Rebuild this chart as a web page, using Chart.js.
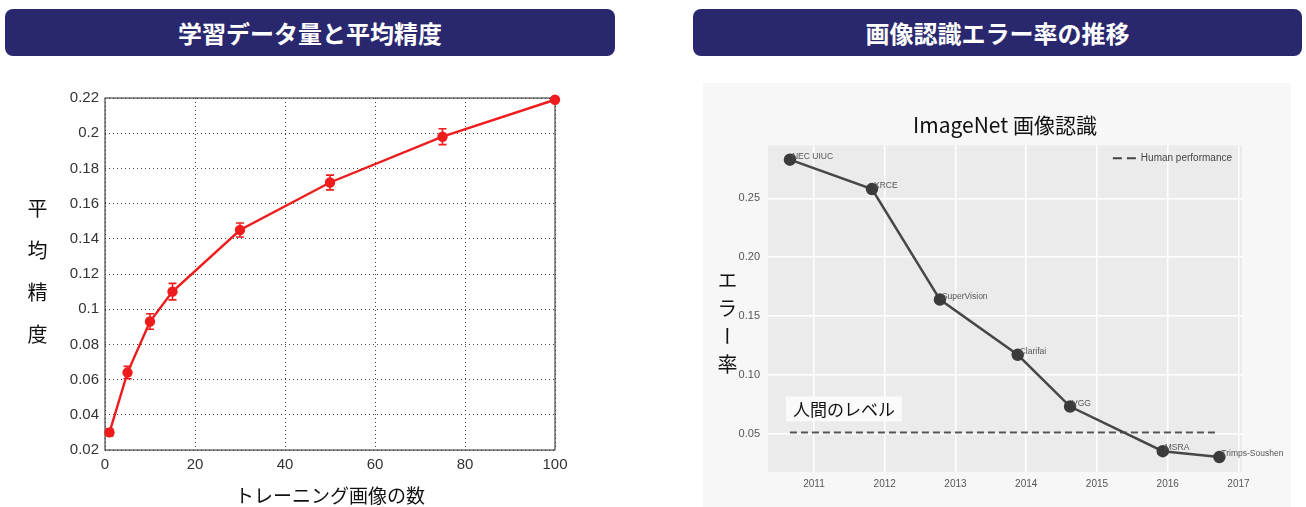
<!DOCTYPE html>
<html>
<head>
<meta charset="utf-8">
<script src="https://cdn.jsdelivr.net/npm/chart.js@4.4.1/dist/chart.umd.min.js"></script>
<style>
    body { margin: 0; width: 1306px; height: 507px; background: #fff; position: relative; overflow: hidden;
           font-family: "Noto Sans CJK JP", "Noto Sans", sans-serif; }
    .banner { position: absolute; top: 9px; height: 47px; background: #29286f; border-radius: 8px; color: #fff;
              font-weight: bold; font-size: 24px; line-height: 47px; text-align: center; }
    .vlabel { position: absolute; writing-mode: vertical-rl; font-size: 20px; color: #111; line-height: 24px; }
</style>
</head>
<body>
<div class="banner" style="left:5px;width:610px">学習データ量と平均精度</div>
<div class="banner" style="left:693px;width:609px">画像認識エラー率の推移</div>

<div style="position:absolute;left:0;top:80px;width:600px;height:427px"><canvas id="apChart"></canvas></div>
<div style="position:absolute;left:703px;top:83px;width:588px;height:424px;background:#f7f7f7"><canvas id="errChart"></canvas></div>

<div class="vlabel" style="left:25px;top:198px;letter-spacing:22px">平均精度</div>
<div class="vlabel" style="left:715px;top:270px;letter-spacing:8px">エラー率</div>

<script>
// 左: 学習データ量と平均精度
const trainSizes = [1, 5, 10, 15, 30, 50, 75, 100];
const meanAP = [0.030, 0.064, 0.093, 0.110, 0.145, 0.172, 0.198, 0.219];
const apError = [0.002, 0.0035, 0.0044, 0.0047, 0.004, 0.0042, 0.0045, 0];
const apTicks = [0.02, 0.04, 0.06, 0.08, 0.10, 0.12, 0.14, 0.16, 0.18, 0.20, 0.22];
const sizeTicks = [0, 20, 40, 60, 80, 100];

// 右: ImageNet のエラー率
const systemNames = ['NEC UIUC', 'XRCE', 'SuperVision', 'Clarifai', 'VGG', 'MSRA', 'Trimps-Soushen'];
const entryYears = [2010.66, 2011.82, 2012.78, 2013.88, 2014.62, 2015.93, 2016.73];
const errorRates = [0.283, 0.258, 0.164, 0.117, 0.073, 0.035, 0.030];
const humanRate = 0.051;
const humanSpan = [2010.66, 2016.71];
const yearTicks = [2011, 2012, 2013, 2014, 2015, 2016, 2017];
const rateTicks = [0.05, 0.10, 0.15, 0.20, 0.25];

const RED = '#ee1c1c';

// エラーバー
const errorBars = {
    id: 'errorBars',
    afterDatasetsDraw(chart) {
        const { ctx, scales: { x, y } } = chart;
        ctx.save();
        ctx.strokeStyle = RED;
        ctx.lineWidth = 1.6;
        trainSizes.forEach((s, i) => {
            if (!apError[i]) return;
            const px = x.getPixelForValue(s);
            const top = y.getPixelForValue(meanAP[i] + apError[i]);
            const bot = y.getPixelForValue(meanAP[i] - apError[i]);
            ctx.beginPath();
            ctx.moveTo(px, top); ctx.lineTo(px, bot);
            ctx.moveTo(px - 4, top); ctx.lineTo(px + 4, top);
            ctx.moveTo(px - 4, bot); ctx.lineTo(px + 4, bot);
            ctx.stroke();
        });
        ctx.restore();
    }
};

// matlab風の枠
const plotFrame = {
    id: 'plotFrame',
    beforeDatasetsDraw(chart) {
        const { ctx, chartArea: a } = chart;
        ctx.save();
        ctx.strokeStyle = '#222';
        ctx.lineWidth = 1;
        ctx.strokeRect(a.left, a.top, a.right - a.left, a.bottom - a.top);
        ctx.restore();
    }
};

new Chart(document.getElementById('apChart'), {
    type: 'line',
    data: {
        datasets: [{
            data: trainSizes.map((s, i) => ({ x: s, y: meanAP[i] })),
            borderColor: RED,
            backgroundColor: RED,
            borderWidth: 2.4,
            pointRadius: 4,
            pointBackgroundColor: RED,
            pointBorderColor: RED,
            clip: false
        }]
    },
    options: {
        responsive: true,
        maintainAspectRatio: false,
        animation: false,
        layout: { padding: { top: 18, right: 45, left: 0, bottom: 0 } },
        plugins: { legend: { display: false }, tooltip: { enabled: false } },
        scales: {
            x: {
                type: 'linear', min: 0, max: 100,
                afterBuildTicks: s => { s.ticks = sizeTicks.map(v => ({ value: v })); },
                afterFit: s => { s.height = 57; },
                grid: { color: '#444', drawTicks: false },
                border: { display: false, dash: [1, 3] },
                ticks: { padding: 6, color: '#333', font: { family: 'Liberation Sans', size: 15 } },
                title: { display: true, text: 'トレーニング画像の数', color: '#111',
                         font: { family: 'Noto Sans CJK JP', size: 19 }, padding: { top: 0, bottom: 0 } }
            },
            y: {
                type: 'linear', min: 0.02, max: 0.22,
                afterBuildTicks: s => { s.ticks = apTicks.map(v => ({ value: v })); },
                afterFit: s => { s.width = 105; },
                grid: { color: '#444', drawTicks: false },
                border: { display: false, dash: [1, 3] },
                ticks: { padding: 6, color: '#333', font: { family: 'Liberation Sans', size: 15 },
                         callback: v => String(+v.toFixed(2)) }
            }
        }
    },
    plugins: [plotFrame, errorBars]
});

// ggplot風の背景
const plotPanel = {
    id: 'plotPanel',
    beforeDraw(chart) {
        const { ctx, chartArea: a } = chart;
        ctx.save();
        ctx.fillStyle = '#ebebeb';
        ctx.fillRect(a.left, a.top, a.right - a.left, a.bottom - a.top);
        ctx.restore();
    }
};

// 点の名前、凡例、人間のレベル
const errNotes = {
    id: 'errNotes',
    afterDatasetsDraw(chart) {
        const { ctx, chartArea: a, scales: { x, y } } = chart;
        const meta = chart.getDatasetMeta(0);
        ctx.save();
        ctx.fillStyle = '#555';
        ctx.font = '8.5px "Liberation Sans"';
        ctx.textBaseline = 'alphabetic';
        meta.data.forEach((pt, i) => {
            ctx.fillText(systemNames[i], pt.x + 2, pt.y - 1);
        });

        // 凡例
        ctx.font = '10px "Liberation Sans"';
        ctx.fillStyle = '#444';
        ctx.textBaseline = 'middle';
        const label = 'Human performance';
        const tw = ctx.measureText(label).width;
        const tx = a.right - 10 - tw;
        const ty = a.top + 13;
        ctx.fillText(label, tx, ty);
        ctx.strokeStyle = '#444';
        ctx.lineWidth = 2;
        ctx.setLineDash([9, 5]);
        ctx.beginPath();
        ctx.moveTo(tx - 28, ty); ctx.lineTo(tx - 5, ty);
        ctx.stroke();
        ctx.setLineDash([]);

        // 人間のレベル
        ctx.font = '17px "Noto Sans CJK JP"';
        const hl = '人間のレベル';
        const hw = ctx.measureText(hl).width;
        const bx = x.getPixelForValue(humanSpan[0]) - 4;
        const by = y.getPixelForValue(humanRate) - 36;
        ctx.fillStyle = '#fafafa';
        ctx.fillRect(bx, by, hw + 14, 25);
        ctx.fillStyle = '#111';
        ctx.fillText(hl, bx + 7, by + 13);
        ctx.restore();
    }
};

new Chart(document.getElementById('errChart'), {
    type: 'line',
    data: {
        datasets: [{
            data: entryYears.map((yr, i) => ({ x: yr, y: errorRates[i] })),
            borderColor: '#474747',
            borderWidth: 2.5,
            pointRadius: 5,
            pointBackgroundColor: '#3b3b3b',
            pointBorderColor: '#3b3b3b',
            clip: false
        }, {
            label: 'Human performance',
            data: humanSpan.map(yr => ({ x: yr, y: humanRate })),
            borderColor: '#555',
            borderWidth: 2,
            borderDash: [7, 4],
            pointRadius: 0
        }]
    },
    options: {
        responsive: true,
        maintainAspectRatio: false,
        animation: false,
        layout: { padding: { top: 0, right: 49, left: 0, bottom: 0 } },
        plugins: {
            legend: { display: false },
            tooltip: { enabled: false },
            title: { display: true, text: 'ImageNet 画像認識', color: '#111', fullSize: false,
                     font: { family: 'Noto Sans CJK JP', size: 21, weight: 'normal' },
                     padding: { top: 29, bottom: 8 } }
        },
        scales: {
            x: {
                type: 'linear', min: 2010.35, max: 2017.05,
                afterBuildTicks: s => { s.ticks = yearTicks.map(v => ({ value: v })); },
                afterFit: s => { s.height = 35; },
                grid: { color: '#fff', lineWidth: 1.5, drawTicks: false },
                border: { display: false },
                ticks: { padding: 6, color: '#555', font: { family: 'Liberation Sans', size: 10 },
                         callback: v => String(v) }
            },
            y: {
                type: 'linear', min: 0.0173, max: 0.2953,
                afterBuildTicks: s => { s.ticks = rateTicks.map(v => ({ value: v })); },
                afterFit: s => { s.width = 65; },
                grid: { color: '#fff', lineWidth: 1.5, drawTicks: false },
                border: { display: false },
                ticks: { padding: 8, color: '#555', font: { family: 'Liberation Sans', size: 11 },
                         callback: v => v.toFixed(2) }
            }
        }
    },
    plugins: [plotPanel, errNotes]
});
</script>
</body>
</html>
